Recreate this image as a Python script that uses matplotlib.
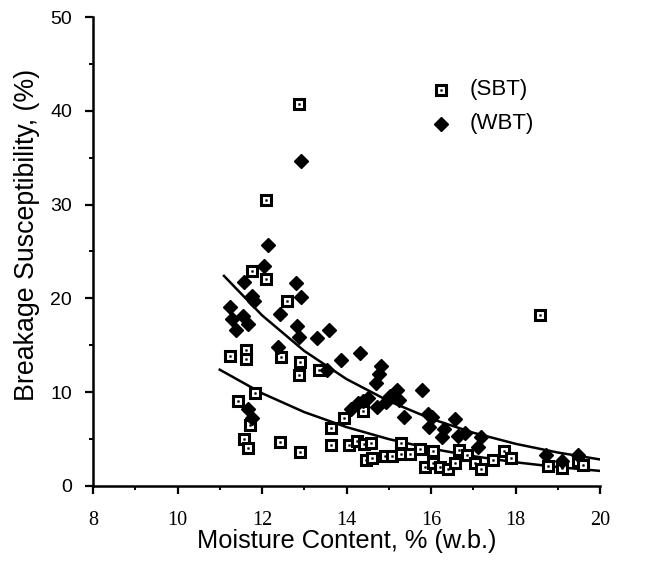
import matplotlib
matplotlib.use("Agg")
import matplotlib.pyplot as plt
from matplotlib.ticker import MultipleLocator

# SBT data (squares)
sbt_x = [12.88, 12.09, 11.76, 12.09, 12.59, 11.24, 11.61, 11.61, 12.45, 12.91,
         12.88, 13.34, 11.43, 11.84, 11.71, 11.58, 11.68, 12.42, 12.91, 13.64,
         13.94, 14.39, 13.64, 14.06, 14.24, 14.41, 14.57, 14.46, 14.61, 14.91,
         15.07, 15.28, 15.28, 15.51, 15.73, 15.86, 16.05, 16.05, 16.21, 16.41,
         16.56, 16.67, 16.86, 17.03, 17.19, 17.47, 17.72, 17.90, 18.59, 18.77,
         19.10, 19.49, 19.60]
sbt_y = [40.7, 30.5, 22.9, 22.1, 19.7, 13.9, 14.5, 13.5, 13.8, 13.2,
         11.8, 12.4, 9.1, 9.9, 6.5, 5.0, 4.0, 4.7, 3.6, 6.2,
         7.2, 8.0, 4.4, 4.4, 4.8, 4.5, 4.6, 2.8, 3.0, 3.2,
         3.2, 3.4, 4.6, 3.4, 3.9, 2.0, 2.5, 3.7, 2.0, 1.8,
         2.5, 3.8, 3.3, 2.5, 1.8, 2.8, 3.7, 3.0, 18.2, 2.1,
         1.9, 2.7, 2.2]

# WBT data (diamonds)
wbt_x = [12.92, 12.14, 12.04, 11.58, 12.80, 11.76, 11.82, 12.92, 11.24, 11.28,
         11.55, 11.66, 11.38, 12.42, 12.83, 12.88, 13.30, 13.59, 12.37, 13.54,
         13.86, 14.31, 11.68, 11.76, 14.82, 14.76, 14.69, 14.11, 14.28, 14.39,
         14.52, 14.72, 14.93, 15.02, 15.20, 15.25, 15.36, 15.78, 15.94, 16.03,
         15.95, 16.26, 16.30, 16.56, 16.64, 16.81, 17.11, 17.19, 18.73, 19.11,
         19.49]
wbt_y = [34.7, 25.7, 23.5, 21.8, 21.6, 20.3, 19.7, 20.1, 19.1, 17.8,
         18.1, 17.3, 16.6, 18.3, 17.1, 15.9, 15.8, 16.6, 14.8, 12.4,
         13.4, 14.2, 8.2, 7.2, 12.8, 11.9, 11.0, 8.2, 8.8, 9.1,
         9.4, 8.4, 9.0, 9.6, 10.2, 9.2, 7.4, 10.2, 7.7, 7.4,
         6.3, 5.2, 6.1, 7.1, 5.3, 5.6, 4.2, 5.2, 3.3, 2.7,
         3.3]

# Fitted curves
wbt_fit_x = [11.1, 12, 13, 14, 15, 16, 17, 18, 19, 20]
wbt_fit_y = [22.4, 18.2, 14.4, 11.4, 9.05, 7.17, 5.68, 4.50, 3.57, 2.83]
sbt_fit_x = [11.0, 12, 13, 14, 15, 16, 17, 18, 19, 20]
sbt_fit_y = [12.4, 9.89, 7.88, 6.28, 5.00, 3.99, 3.18, 2.53, 2.02, 1.61]

x_ticks = [8, 10, 12, 14, 16, 18, 20]
y_ticks = [0, 10, 20, 30, 40, 50]

fig = plt.figure(figsize=(6.45, 5.61), dpi=100)
ax = fig.add_axes([93/645, 1-486/561, (600-93)/645, (486-17)/561])

ax.plot(wbt_fit_x, wbt_fit_y, color='black', lw=1.8, zorder=2)
ax.plot(sbt_fit_x, sbt_fit_y, color='black', lw=1.8, zorder=2)

sq = dict(ls='none', marker='s', ms=6.5, mfc='white', mec='black', mew=2.2)
dot = dict(ls='none', marker='s', ms=1.2, mfc='black', mec='black', mew=0.4)
dm = dict(ls='none', marker='D', ms=7, mfc='black', mec='black')

ax.plot(sbt_x, sbt_y, zorder=3, **sq)
ax.plot(sbt_x, sbt_y, zorder=4, **dot)
ax.plot(wbt_x, wbt_y, zorder=3, **dm)

ax.set_xlim(8, 20)
ax.set_ylim(0, 50)
ax.set_xticks(x_ticks, labels=[str(t) for t in x_ticks], fontsize=14.5,
              fontfamily='Liberation Serif')
ax.set_yticks(y_ticks, labels=[str(t) for t in y_ticks], fontsize=14,
              fontfamily='Liberation Sans')
ax.xaxis.set_minor_locator(MultipleLocator(1))
ax.yaxis.set_minor_locator(MultipleLocator(5))
for s in ['top', 'right']:
    ax.spines[s].set_visible(False)
for s in ['left', 'bottom']:
    ax.spines[s].set_linewidth(1.8)
ax.tick_params(which='major', direction='out', length=6, width=1.6)
ax.tick_params(which='minor', direction='out', length=3, width=1.4)
ax.tick_params(axis='x', pad=12)
ax.tick_params(axis='y', pad=9)

ax.set_xlabel('Moisture Content, % (w.b.)', fontsize=18.3,
              fontfamily='Liberation Sans')
ax.set_ylabel('Breakage Susceptibility, (%)', fontsize=19.3,
              fontfamily='Liberation Sans')
ax.xaxis.set_label_coords(0.5, (486-541)/469)
ax.xaxis.label.set_va('center')
ax.yaxis.set_label_coords((27-93)/507, (486-235)/469)
ax.yaxis.label.set_va('center')

# Legend
lx = (441-93)/42.25+8
ax.plot([lx], [(486-90)/9.38], clip_on=False, **sq)
ax.plot([lx], [(486-90)/9.38], clip_on=False, **dot)
ax.plot([lx], [(486-124)/9.38], clip_on=False, **dm)
fig.text(470/645, 1-90/561, '(SBT)', fontsize=16, fontfamily='Liberation Sans',
         va='center', ha='left')
fig.text(470/645, 1-124/561, '(WBT)', fontsize=16, fontfamily='Liberation Sans',
         va='center', ha='left')

fig.savefig('out.png', dpi=100)
